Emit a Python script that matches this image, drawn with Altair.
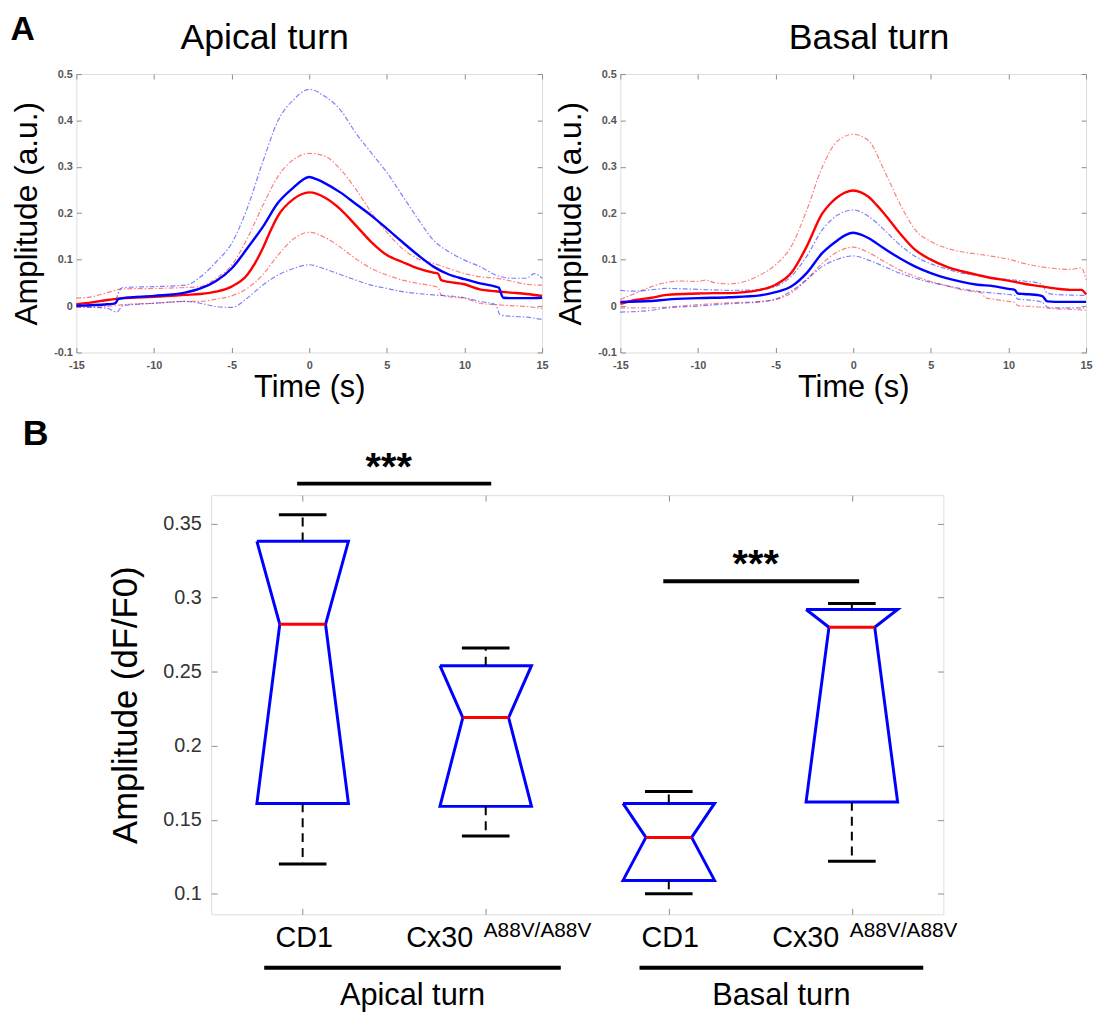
import altair as alt
import pandas as pd

FONT = "Liberation Sans"
RED = "#ff0000"
BLUE = "#0000ff"
FRAME = "#8c8c8c"

# ---------------- Panel A data: time (s) / amplitude (a.u.) ----------------
# Apical turn, CD1 (red)
ap_cd1_mean_t = [-15, -14, -13, -12, -10, -8, -7, -6, -5, -4, -3.5, -3, -2.5, -2, -1, -0.5, 0, 0.5, 1, 2, 3, 4, 5, 6, 7, 8, 8.3, 8.5, 9, 10, 11, 12, 13, 14, 15]
ap_cd1_mean_v = [0.004, 0.008, 0.013, 0.017, 0.020, 0.024, 0.026, 0.031, 0.042, 0.067, 0.092, 0.124, 0.162, 0.195, 0.231, 0.241, 0.245, 0.242, 0.234, 0.209, 0.174, 0.138, 0.110, 0.095, 0.081, 0.072, 0.070, 0.056, 0.052, 0.047, 0.036, 0.032, 0.029, 0.026, 0.022]
ap_cd1_hi_t = [-15, -14, -13, -12, -10, -8, -7, -6, -5, -4, -3, -2, -1, 0, 1, 2, 3, 4, 5, 6, 7, 8, 9, 10, 11, 12, 13, 14, 15]
ap_cd1_hi_v = [0.017, 0.020, 0.029, 0.037, 0.038, 0.040, 0.042, 0.060, 0.088, 0.145, 0.216, 0.280, 0.316, 0.329, 0.323, 0.295, 0.252, 0.202, 0.159, 0.124, 0.102, 0.092, 0.081, 0.070, 0.063, 0.060, 0.054, 0.047, 0.045]
ap_cd1_lo_t = [-15, -13, -12, -10, -8, -7, -6, -5, -4, -3, -2, -1, 0, 1, 2, 3, 4, 5, 6, 7, 8, 8.3, 8.5, 9, 10, 11, 12, 13, 14, 15]
ap_cd1_lo_v = [-0.003, -0.001, 0.003, 0.006, 0.010, 0.010, 0.015, 0.022, 0.038, 0.067, 0.110, 0.145, 0.159, 0.148, 0.127, 0.102, 0.081, 0.067, 0.056, 0.049, 0.043, 0.040, 0.024, 0.020, 0.017, 0.006, 0.003, 0.001, -0.001, -0.005]
# Apical turn, Cx30 A88V/A88V (blue)
ap_cx_mean_t = [-15, -13, -12.5, -12.3, -12, -10, -8, -7, -6, -5, -4, -3, -2, -1, -0.5, 0, 0.5, 1, 2, 3, 4, 5, 6, 7, 8, 9, 10, 11, 12, 12.2, 12.5, 13, 14, 15]
ap_cx_mean_v = [0.001, 0.004, 0.006, 0.015, 0.017, 0.022, 0.029, 0.038, 0.054, 0.081, 0.124, 0.170, 0.223, 0.256, 0.270, 0.278, 0.273, 0.265, 0.245, 0.220, 0.195, 0.167, 0.138, 0.110, 0.085, 0.068, 0.058, 0.049, 0.042, 0.040, 0.018, 0.017, 0.017, 0.018]
ap_cx_hi_t = [-15, -13, -12.6, -12.2, -12, -10, -8, -7, -6, -5, -4, -3, -2, -1, 0, 1, 2, 3, 4, 5, 6, 7, 8, 9, 10, 11, 12, 13, 14, 14.5, 15]
ap_cx_hi_v = [0.001, 0.003, 0.005, 0.035, 0.040, 0.042, 0.045, 0.063, 0.095, 0.135, 0.210, 0.310, 0.400, 0.445, 0.467, 0.452, 0.423, 0.373, 0.330, 0.288, 0.238, 0.188, 0.142, 0.117, 0.099, 0.085, 0.067, 0.060, 0.060, 0.070, 0.060]
ap_cx_lo_t = [-15, -13, -12.4, -12.1, -12, -10, -8, -7, -6, -5, -4, -3, -2, -1, 0, 1, 2, 3, 4, 5, 6, 7, 8, 9, 10, 11, 12, 12.3, 13, 14, 15]
ap_cx_lo_v = [-0.001, -0.005, -0.013, -0.002, 0.001, 0.006, 0.010, 0.006, -0.001, -0.003, 0.017, 0.045, 0.067, 0.081, 0.089, 0.080, 0.068, 0.056, 0.045, 0.038, 0.031, 0.027, 0.024, 0.022, 0.018, 0.010, 0.003, -0.019, -0.022, -0.024, -0.029]

# Basal turn, CD1 (red)
bs_cd1_mean_t = [-15, -14, -13, -12, -10, -9, -8, -7, -6, -5, -4, -3, -2, -1.5, -1, -0.5, 0, 0.5, 1, 1.5, 2, 3, 4, 5, 6, 7, 8, 9, 10, 11, 12, 13, 14, 14.7, 15]
bs_cd1_mean_v = [0.005, 0.013, 0.018, 0.024, 0.027, 0.028, 0.028, 0.030, 0.035, 0.046, 0.071, 0.128, 0.199, 0.220, 0.235, 0.245, 0.249, 0.245, 0.235, 0.218, 0.199, 0.157, 0.121, 0.100, 0.085, 0.075, 0.067, 0.060, 0.055, 0.048, 0.043, 0.038, 0.035, 0.035, 0.025]
bs_cd1_hi_t = [-15, -14, -13, -12, -11, -10, -9.5, -9, -8, -7, -6, -5, -4, -3, -2, -1, 0, 1, 2, 3, 4, 5, 6, 7, 8, 9, 10, 11, 12, 13, 14, 14.7, 15]
bs_cd1_hi_v = [0.014, 0.028, 0.042, 0.051, 0.054, 0.053, 0.056, 0.051, 0.048, 0.053, 0.067, 0.089, 0.128, 0.206, 0.299, 0.356, 0.370, 0.356, 0.292, 0.221, 0.164, 0.139, 0.125, 0.117, 0.112, 0.107, 0.101, 0.092, 0.085, 0.081, 0.079, 0.082, 0.057]
bs_cd1_lo_t = [-15, -13, -12, -10, -8, -6, -5, -4, -3, -2, -1, 0, 1, 2, 3, 4, 5, 6, 7, 8, 8.3, 8.5, 9, 10, 10.4, 10.6, 12, 13, 14, 15]
bs_cd1_lo_v = [-0.004, -0.004, -0.002, 0.003, 0.007, 0.010, 0.014, 0.028, 0.057, 0.092, 0.117, 0.127, 0.115, 0.096, 0.078, 0.064, 0.053, 0.044, 0.035, 0.030, 0.028, 0.018, 0.015, 0.010, 0.008, 0.001, -0.002, -0.006, -0.007, -0.009]
# Basal turn, Cx30 A88V/A88V (blue)
bs_cx_mean_t = [-15, -13, -12, -10, -8, -6, -5, -4, -3, -2, -1, -0.5, 0, 0.5, 1, 2, 3, 4, 5, 6, 7, 8, 9, 10, 10.4, 10.6, 11, 12, 12.2, 12.5, 13, 15]
bs_cx_mean_v = [0.009, 0.011, 0.014, 0.017, 0.019, 0.023, 0.030, 0.042, 0.071, 0.114, 0.142, 0.153, 0.158, 0.154, 0.146, 0.124, 0.103, 0.085, 0.071, 0.060, 0.052, 0.046, 0.043, 0.037, 0.035, 0.027, 0.026, 0.023, 0.021, 0.010, 0.009, 0.009]
bs_cx_hi_t = [-15, -14, -13, -12, -10, -8, -6, -5, -4, -3, -2, -1, 0, 1, 2, 3, 4, 5, 6, 7, 8, 9, 10, 11, 12, 12.2, 12.5, 13, 15]
bs_cx_hi_v = [0.034, 0.032, 0.035, 0.038, 0.036, 0.034, 0.035, 0.042, 0.064, 0.107, 0.164, 0.196, 0.207, 0.193, 0.164, 0.132, 0.107, 0.091, 0.080, 0.071, 0.066, 0.061, 0.057, 0.054, 0.049, 0.045, 0.028, 0.025, 0.023]
bs_cx_lo_t = [-15, -13, -12, -10, -8, -6, -5, -4, -3, -2, -1, 0, 1, 2, 3, 4, 5, 6, 7, 8, 9, 10, 10.4, 10.6, 11, 12, 12.2, 12.5, 13, 15]
bs_cx_lo_v = [-0.013, -0.009, -0.004, 0.000, 0.005, 0.009, 0.015, 0.032, 0.057, 0.085, 0.101, 0.108, 0.099, 0.085, 0.071, 0.060, 0.051, 0.044, 0.037, 0.032, 0.028, 0.025, 0.023, 0.015, 0.014, 0.010, 0.008, -0.002, -0.004, -0.004]

# ---------------- Panel B data: amplitude (dF/F0) notched boxplots ----------------
box_pos = [1, 2, 3, 4]
box_group = ["CD1", "Cx30", "CD1", "Cx30"]
box_q1 = [0.161, 0.159, 0.109, 0.162]
box_med = [0.282, 0.219, 0.138, 0.280]
box_q3 = [0.338, 0.254, 0.161, 0.292]
box_wlo = [0.120, 0.139, 0.100, 0.122]
box_whi = [0.356, 0.266, 0.169, 0.296]
genotype_sup = ["A88V/A88V", "A88V/A88V"]
sup_pos = [2, 4]
sig_x1 = [0.97, 2.97]
sig_x2 = [2.03, 4.04]
sig_y = [0.377, 0.311]
sig_text = ["***", "***"]
turn_names = ["Apical turn", "Basal turn"]
turn_x1 = [0.79, 2.84]
turn_x2 = [2.41, 4.39]

# ---------------- build tables ----------------
def lines_table(spec):
    rows = []
    for name, grp, kind, ts, vs in spec:
        for t, v in zip(ts, vs):
            rows.append({"t": t, "v": v, "line": name, "group": grp, "kind": kind})
    return pd.DataFrame(rows)

apical_df = lines_table([
    ("cd1_mean", "CD1", "mean", ap_cd1_mean_t, ap_cd1_mean_v),
    ("cd1_hi", "CD1", "band", ap_cd1_hi_t, ap_cd1_hi_v),
    ("cd1_lo", "CD1", "band", ap_cd1_lo_t, ap_cd1_lo_v),
    ("cx_mean", "Cx30", "mean", ap_cx_mean_t, ap_cx_mean_v),
    ("cx_hi", "Cx30", "band", ap_cx_hi_t, ap_cx_hi_v),
    ("cx_lo", "Cx30", "band", ap_cx_lo_t, ap_cx_lo_v),
])
basal_df = lines_table([
    ("cd1_mean", "CD1", "mean", bs_cd1_mean_t, bs_cd1_mean_v),
    ("cd1_hi", "CD1", "band", bs_cd1_hi_t, bs_cd1_hi_v),
    ("cd1_lo", "CD1", "band", bs_cd1_lo_t, bs_cd1_lo_v),
    ("cx_mean", "Cx30", "mean", bs_cx_mean_t, bs_cx_mean_v),
    ("cx_hi", "Cx30", "band", bs_cx_hi_t, bs_cx_hi_v),
    ("cx_lo", "Cx30", "band", bs_cx_lo_t, bs_cx_lo_v),
])

A_W, A_H = 470, 281
B_W, B_H = 739, 423
TICK_A = 5
TICK_B = 6
MINUS_FIX = "replace(datum.label, '\u2212', '-')"


def trace_panel(df, title_text, title_dx):
    xs = alt.Scale(domain=[-15, 15], nice=False, zero=False)
    ys = alt.Scale(domain=[-0.1, 0.5], nice=False, zero=False)
    cs = alt.Scale(domain=["CD1", "Cx30"], range=[RED, BLUE])
    lab = dict(labelFont=FONT, labelFontSize=11, labelFontWeight="bold", labelColor="#555555",
               domain=False, grid=False, tickColor=FRAME, tickWidth=1, tickSize=TICK_A,
               offset=-TICK_A, format="~g", labelExpr=MINUS_FIX, labelFlush=False, labelOverlap=False)
    ttl = dict(titleFont=FONT, titleFontWeight="normal", titleColor="black")
    x_main = alt.X("t:Q", scale=xs, axis=alt.Axis(values=[-15, -10, -5, 0, 5, 10, 15], title="Time (s)",
                                                  labelPadding=7, titleFontSize=31, titlePadding=2, **lab, **ttl))
    y_main = alt.Y("v:Q", scale=ys, axis=alt.Axis(values=[-0.1, 0, 0.1, 0.2, 0.3, 0.4, 0.5], title="Amplitude (a.u.)",
                                                  labelPadding=4, titleFontSize=32, titlePadding=10, **lab, **ttl))
    mirror = dict(labels=False, domain=False, grid=False, tickColor=FRAME, tickWidth=1, tickSize=TICK_A, offset=-TICK_A, title=None)
    x_mirror = alt.X("t:Q", scale=xs, axis=alt.Axis(orient="top", values=[-15, -10, -5, 0, 5, 10, 15], **mirror))
    y_mirror = alt.Y("v:Q", scale=ys, axis=alt.Axis(orient="right", values=[-0.1, 0, 0.1, 0.2, 0.3, 0.4, 0.5], **mirror))

    bands = alt.Chart(df).transform_filter(alt.datum.kind == "band").mark_line(
        strokeWidth=1.2, strokeDash=[5, 2, 1.5, 2], opacity=0.5, interpolate="monotone"
    ).encode(x=x_main, y=y_main, color=alt.Color("group:N", scale=cs, legend=None), detail="line:N")
    means = alt.Chart(df).transform_filter(alt.datum.kind == "mean").mark_line(
        strokeWidth=2.4, interpolate="monotone"
    ).encode(x=x_mirror, y=y_mirror, color=alt.Color("group:N", scale=cs, legend=None), detail="line:N")
    return alt.layer(bands, means).resolve_axis(x="independent", y="independent").properties(
        width=A_W, height=A_H,
        title=alt.TitleParams(title_text, font=FONT, fontSize=36, fontWeight="normal", color="black",
                              anchor="middle", dx=title_dx, offset=11),
    )


apical = trace_panel(apical_df, "Apical turn", -45)
basal = trace_panel(basal_df, "Basal turn", 16)

# ---------------- Panel B ----------------
BOX_HALF = 0.25
NOTCH_HALF = 0.125
CAP_HALF = 0.13

outline_rows = []
for p, q1, md, q3 in zip(box_pos, box_q1, box_med, box_q3):
    pts = [(p - BOX_HALF, q3), (p + BOX_HALF, q3), (p + NOTCH_HALF, md), (p + BOX_HALF, q1),
           (p - BOX_HALF, q1), (p - NOTCH_HALF, md), (p - BOX_HALF, q3)]
    for i, (px, py) in enumerate(pts):
        outline_rows.append({"box": p, "o": i, "px": px, "py": py})
outline_df = pd.DataFrame(outline_rows)

stats_df = pd.DataFrame({"pos": box_pos, "group": box_group, "q1": box_q1, "med": box_med, "q3": box_q3,
                         "wlo": box_wlo, "whi": box_whi})
stats_df["nl"] = stats_df["pos"] - NOTCH_HALF
stats_df["nr"] = stats_df["pos"] + NOTCH_HALF
stats_df["cl"] = stats_df["pos"] - CAP_HALF
stats_df["cr"] = stats_df["pos"] + CAP_HALF

sig_df = pd.DataFrame({"x1": sig_x1, "x2": sig_x2, "y": sig_y, "txt": sig_text})
sig_df["xc"] = (sig_df["x1"] + sig_df["x2"]) / 2 - 0.03
sup_df = pd.DataFrame({"pos": sup_pos, "txt": genotype_sup})
turn_df = pd.DataFrame({"x1": turn_x1, "x2": turn_x2, "name": turn_names})
turn_df["xc"] = (turn_df["x1"] + turn_df["x2"]) / 2

bxs = alt.Scale(domain=[0.5, 4.5], nice=False, zero=False)
bys = alt.Scale(domain=[0.0861, 0.3692], nice=False, zero=False)

b_main_x = alt.Axis(values=[1, 2, 3, 4], title=None, domain=False, grid=False, tickColor=FRAME, tickSize=TICK_B,
                    offset=-TICK_B, labelExpr="datum.value % 2 == 1 ? 'CD1' : 'Cx30'",
                    labelOffset={"condition": {"test": "datum.value % 2 == 0", "value": -47}, "value": 1},
                    labelFont=FONT, labelFontSize=29, labelColor="black", labelPadding=10,
                    labelFlush=False, labelOverlap=False)
b_main_y = alt.Axis(values=[0.1, 0.15, 0.2, 0.25, 0.3, 0.35], format="~g", title="Amplitude (dF/F0)",
                    domain=False, grid=False, tickColor=FRAME, tickSize=TICK_B, offset=-TICK_B,
                    labelFont=FONT, labelFontSize=20, labelColor="#333333", labelPadding=10,
                    titleFont=FONT, titleFontSize=35, titleFontWeight="normal", titleColor="black",
                    titlePadding=19, labelFlush=False)
b_mirror = dict(labels=False, domain=False, grid=False, tickColor=FRAME, tickSize=TICK_B, offset=-TICK_B, title=None)

outline = alt.Chart(outline_df).mark_line(color=BLUE, strokeWidth=3).encode(
    x=alt.X("px:Q", scale=bxs, axis=b_main_x),
    y=alt.Y("py:Q", scale=bys, axis=b_main_y),
    detail="box:N", order="o:Q",
)
whisk_hi = alt.Chart(stats_df).mark_rule(color="black", strokeWidth=2, strokeDash=[9, 6]).encode(
    x=alt.X("pos:Q", scale=bxs, axis=alt.Axis(orient="top", values=[1, 2, 3, 4], **b_mirror)),
    y=alt.Y("q3:Q", scale=bys, axis=alt.Axis(orient="right", values=[0.1, 0.15, 0.2, 0.25, 0.3, 0.35], **b_mirror)),
    y2="whi:Q",
)
whisk_lo = alt.Chart(stats_df).mark_rule(color="black", strokeWidth=2, strokeDash=[9, 6]).encode(
    x=alt.X("pos:Q", scale=bxs, axis=None), y=alt.Y("q1:Q", scale=bys, axis=None), y2="wlo:Q",
)
cap_hi = alt.Chart(stats_df).mark_rule(color="black", strokeWidth=3).encode(
    x=alt.X("cl:Q", scale=bxs, axis=None), x2="cr:Q", y=alt.Y("whi:Q", scale=bys, axis=None),
)
cap_lo = alt.Chart(stats_df).mark_rule(color="black", strokeWidth=3).encode(
    x=alt.X("cl:Q", scale=bxs, axis=None), x2="cr:Q", y=alt.Y("wlo:Q", scale=bys, axis=None),
)
median = alt.Chart(stats_df).mark_rule(color=RED, strokeWidth=3).encode(
    x=alt.X("nl:Q", scale=bxs, axis=None), x2="nr:Q", y=alt.Y("med:Q", scale=bys, axis=None),
)
sig_bar = alt.Chart(sig_df).mark_rule(color="black", strokeWidth=4).encode(
    x=alt.X("x1:Q", scale=bxs, axis=None), x2="x2:Q", y=alt.Y("y:Q", scale=bys, axis=None),
)
sig_star = alt.Chart(sig_df).mark_text(font=FONT, fontSize=40, fontWeight="bold", baseline="alphabetic", dy=-4).encode(
    x=alt.X("xc:Q", scale=bxs, axis=None), y=alt.Y("y:Q", scale=bys, axis=None), text="txt:N",
)
sup_text = alt.Chart(sup_df).mark_text(font=FONT, fontSize=21, align="left", baseline="alphabetic", dx=-2).encode(
    x=alt.X("pos:Q", scale=bxs, axis=None), y=alt.value(B_H + 23), text="txt:N",
)
turn_bar = alt.Chart(turn_df).mark_rule(color="black", strokeWidth=4).encode(
    x=alt.X("x1:Q", scale=bxs, axis=None), x2="x2:Q", y=alt.value(B_H + 54),
)
turn_text = alt.Chart(turn_df).mark_text(font=FONT, fontSize=31, baseline="alphabetic").encode(
    x=alt.X("xc:Q", scale=bxs, axis=None), y=alt.value(B_H + 92), text="name:N",
)

panel_b = alt.layer(outline, whisk_hi, whisk_lo, cap_hi, cap_lo, median, sig_bar, sig_star,
                    sup_text, turn_bar, turn_text).resolve_axis(x="independent", y="independent").properties(
    width=B_W, height=B_H)

spacer = alt.Chart(pd.DataFrame({"s": [0]})).mark_point(opacity=0).encode(
    x=alt.X("s:Q", axis=None), y=alt.Y("s:Q", axis=None)
).properties(width=32, height=10, view=alt.ViewBackground(strokeOpacity=0))

row_a = alt.hconcat(apical, basal, spacing=5).properties(
    title=alt.TitleParams("A", font=FONT, fontSize=34, fontWeight="bold", anchor="start", frame="bounds",
                          offset=-27, dx=0, color="black"))
row_b = alt.hconcat(spacer, panel_b, spacing=0).properties(
    title=alt.TitleParams("B", font=FONT, fontSize=36, fontWeight="bold", anchor="start", frame="bounds",
                          offset=-6, dx=-54, color="black"))

chart = alt.vconcat(row_a, row_b, spacing=13).properties(
    padding={"top": 0, "left": 2, "right": 0, "bottom": 0}
).configure_view(
    stroke=FRAME, strokeWidth=1.5
).configure(font=FONT, background="white")

chart.save("out.html", embed_options={"renderer": "svg", "actions": False})
